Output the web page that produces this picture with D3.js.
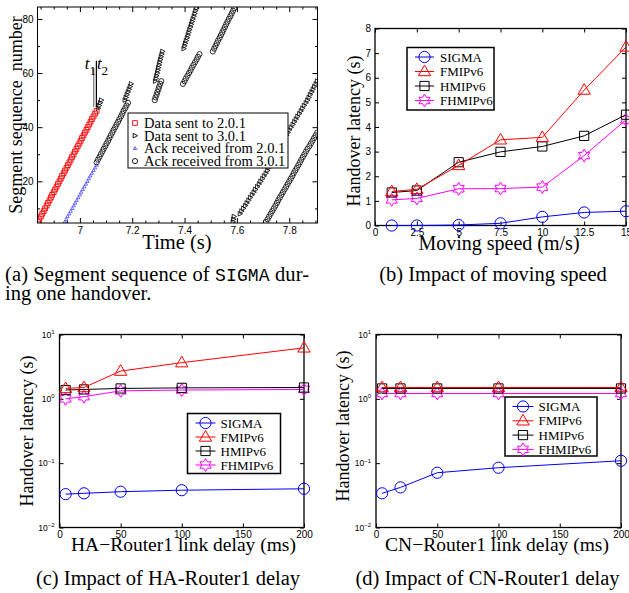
<!DOCTYPE html>
<html>
<head>
<meta charset="utf-8">
<script src="https://cdn.jsdelivr.net/npm/d3@7"></script>
<style>
body { margin: 0; background: #fff; }
svg { display: block; }
</style>
</head>
<body>
<svg id="fig" width="629" height="593"></svg>
<script>
// ---------- (a) segment trace: [first sequence number, send/ack time of each consecutive segment]
var sentTo201 = [[5, [6.840, 6.845, 6.851, 6.856, 6.862, 6.867, 6.873, 6.878, 6.884, 6.889, 6.894, 6.900, 6.905, 6.911,
    6.916, 6.922, 6.927, 6.932, 6.938, 6.943, 6.949, 6.954, 6.960, 6.965, 6.970, 6.976, 6.981, 6.987, 6.992, 6.998,
    7.003, 7.008, 7.014, 7.019, 7.025, 7.030, 7.036, 7.041, 7.046, 7.052, 7.058, 7.064]]];
var sentTo301 = [
    [47, [7.070, 7.074, 7.078, 7.082]],
    [50, [7.172, 7.176, 7.180, 7.184, 7.188, 7.192, 7.196]],
    [57, [7.288, 7.291, 7.293, 7.296, 7.298, 7.300, 7.303, 7.305, 7.308, 7.310, 7.313, 7.316]],
    [69, [7.397, 7.400, 7.403, 7.406, 7.410, 7.413, 7.416, 7.419, 7.423, 7.426, 7.429, 7.432, 7.436, 7.439, 7.442, 7.446]],
    [5, [7.585, 7.587, 7.589]],
    [8, [7.612, 7.618, 7.625, 7.632, 7.638, 7.645, 7.651, 7.658, 7.665, 7.671, 7.678, 7.685, 7.691, 7.698, 7.704, 7.711,
        7.717, 7.722, 7.728, 7.733, 7.739, 7.745, 7.750, 7.756, 7.761, 7.767, 7.773, 7.778, 7.784, 7.790, 7.795,
        7.801, 7.807, 7.814, 7.820, 7.826, 7.832, 7.839, 7.845, 7.851, 7.857, 7.864, 7.870,
        7.875, 7.880, 7.886, 7.891, 7.896, 7.902, 7.907]]
];
var ackFrom201 = [[5, [6.942, 6.948, 6.953, 6.959, 6.965, 6.971, 6.977, 6.982, 6.988, 6.994, 7.000, 7.005, 7.011,
    7.017, 7.023, 7.029, 7.034, 7.040, 7.046, 7.052, 7.058, 7.064]]];
var ackFrom301 = [
    [27, [7.064, 7.069, 7.075, 7.080, 7.086, 7.091, 7.097, 7.102, 7.108, 7.113, 7.118, 7.124, 7.129, 7.135, 7.140,
        7.146, 7.151, 7.157, 7.162, 7.167, 7.173, 7.178, 7.184]],
    [50, [7.286, 7.289, 7.293, 7.296, 7.300, 7.303, 7.307, 7.311]],
    [56, [7.394, 7.400, 7.405, 7.411, 7.417, 7.423, 7.428, 7.434, 7.440, 7.446, 7.451, 7.457]],
    [68, [7.508, 7.513, 7.518, 7.523, 7.528, 7.534, 7.539, 7.544, 7.549, 7.554, 7.559, 7.564, 7.569, 7.575, 7.580,
        7.585, 7.590]],
    [5, [7.711, 7.717, 7.723, 7.729, 7.735, 7.741, 7.747, 7.753, 7.758, 7.764, 7.770, 7.776, 7.782, 7.788, 7.794, 7.800,
        7.806, 7.812, 7.817, 7.823, 7.829, 7.835, 7.841, 7.846, 7.852, 7.858, 7.864,
        7.870, 7.877, 7.883, 7.889, 7.895, 7.901, 7.907]]
];
var traceLegend = ["Data sent to 2.0.1", "Data sent to 3.0.1", "Ack received from 2.0.1", "Ack received from 3.0.1"];
var handoverTimes = [{name: "1", t: 7.053, color: "#777"}, {name: "2", t: 7.063, color: "#000"}];

// ---------- (b) latency vs moving speed
var speeds = [1, 2.5, 5, 7.5, 10, 12.5, 15];
var speedTicks = [0, 2.5, 5, 7.5, 10, 12.5, 15];
var sigmaSpeed = [0.0, 0.0, 0.02, 0.09, 0.35, 0.53, 0.58];
var fmipSpeed = [1.38, 1.47, 2.44, 3.48, 3.58, 5.5, 7.25];
var hmipSpeed = [1.34, 1.42, 2.57, 2.99, 3.21, 3.64, 4.5];
var fhmipSpeed = [1.04, 1.1, 1.49, 1.5, 1.56, 2.84, 4.29];

// ---------- (c) and (d) latency vs link delay
var delays = [5, 20, 50, 100, 200];
var delayTicks = [0, 50, 100, 150, 200];
var sigmaHA = [0.033, 0.034, 0.036, 0.038, 0.040];
var fmipHA = [1.45, 1.5, 2.7, 3.65, 6.2];
var hmipHA = [1.37, 1.4, 1.45, 1.48, 1.5];
var fhmipHA = [1.0, 1.08, 1.33, 1.37, 1.4];
var sigmaCN = [0.034, 0.042, 0.071, 0.085, 0.109];
var fmipCN = [1.5, 1.5, 1.5, 1.5, 1.5];
var hmipCN = [1.45, 1.45, 1.45, 1.45, 1.45];
var fhmipCN = [1.21, 1.21, 1.21, 1.21, 1.21];

var protocols = ["SIGMA", "FMIPv6", "HMIPv6", "FHMIPv6"];
var protoColors = ["#0000ff", "#ff0000", "#000000", "#ff00ff"];
var protoMarkers = ["circle", "triangle", "square", "hexagram"];

var SERIF = "'Liberation Serif', 'Times New Roman', serif",
    SANS = "'Liberation Sans', Arial, sans-serif",
    MONO = "'Liberation Mono', 'Courier New', monospace";

var svg = d3.select("#fig");
svg.append("rect").attr("width", 629).attr("height", 593).attr("fill", "#fff");

function markerPath(type, s) {
    if (type == "circle") {
        return "M" + s + ",0A" + s + "," + s + " 0 1,1 " + (-s) + ",0A" + s + "," + s + " 0 1,1 " + s + ",0Z";
    }
    if (type == "square") {
        return "M" + (-s) + "," + (-s) + "H" + s + "V" + s + "H" + (-s) + "Z";
    }
    if (type == "triangle") {
        return "M0," + (-s * 1.15) + "L" + (s * 1.1) + "," + (s * 0.75) + "L" + (-s * 1.1) + "," + (s * 0.75) + "Z";
    }
    if (type == "right") {
        return "M" + (s * 1.1) + ",0L" + (-s * 0.8) + "," + (-s) + "L" + (-s * 0.8) + "," + s + "Z";
    }
    // hexagram: two overlapping triangles
    var pts = [];
    for (var k = 0; k < 12; k++) {
        var r = k % 2 == 0 ? s * 1.15 : s * 0.66;
        var a = -Math.PI / 2 + k * Math.PI / 6;
        pts.push([r * Math.cos(a), r * Math.sin(a)]);
    }
    return "M" + pts.map(function (p) { return p[0].toFixed(2) + "," + p[1].toFixed(2); }).join("L") + "Z";
}

// ================= (a) =================
var aBox = {x0: 37.5, x1: 317.5, y0: 7, y1: 223};
var ax = d3.scaleLinear().domain([6.838, 7.908]).range([aBox.x0, aBox.x1]);
var ay = d3.scaleLinear().domain([4.6, 84.4]).range([aBox.y1, aBox.y0]);

function expand(bursts) {
    var out = [];
    bursts.forEach(function (b) {
        b[1].forEach(function (t, i) { out.push({t: t, s: b[0] + i}); });
    });
    return out;
}

var ga = svg.append("g");
ga.append("clipPath").attr("id", "clipA").append("rect")
    .attr("x", aBox.x0).attr("y", aBox.y0)
    .attr("width", aBox.x1 - aBox.x0).attr("height", aBox.y1 - aBox.y0);

var aTicks = ga.append("g").attr("font-family", SERIF).attr("font-size", 8.5);
// inside ticks, mirrored on all four sides
[[d3.axisBottom(ax).tickValues([7, 7.2, 7.4, 7.6, 7.8]).tickSize(-5).tickPadding(4).tickFormat(d3.format("")), aBox.y1, true],
 [d3.axisTop(ax).tickValues([7, 7.2, 7.4, 7.6, 7.8]).tickSize(-5).tickFormat(""), aBox.y0, true]].forEach(function (c) {
    aTicks.append("g").attr("transform", "translate(0," + c[1] + ")").call(c[0]);
});
[[d3.axisLeft(ay).tickValues([20, 40, 60, 80]).tickSize(-5).tickPadding(4), aBox.x0],
 [d3.axisRight(ay).tickValues([20, 40, 60, 80]).tickSize(-5).tickFormat(""), aBox.x1]].forEach(function (c) {
    aTicks.append("g").attr("transform", "translate(" + c[1] + ",0)").call(c[0]);
});
var minorX = d3.range(6.85, 7.91, 0.05).filter(function (v) { return Math.abs(v * 5 - Math.round(v * 5)) > 0.01; });
aTicks.append("g").attr("transform", "translate(0," + aBox.y1 + ")").call(d3.axisBottom(ax).tickValues(minorX).tickSize(-2.5).tickFormat(""));
aTicks.append("g").attr("transform", "translate(0," + aBox.y0 + ")").call(d3.axisTop(ax).tickValues(minorX).tickSize(-2.5).tickFormat(""));
aTicks.append("g").attr("transform", "translate(" + aBox.x0 + ",0)").call(d3.axisLeft(ay).tickValues([10, 30, 50, 70]).tickSize(-2.5).tickFormat(""));
aTicks.append("g").attr("transform", "translate(" + aBox.x1 + ",0)").call(d3.axisRight(ay).tickValues([10, 30, 50, 70]).tickSize(-2.5).tickFormat(""));
aTicks.selectAll(".domain").remove();
aTicks.selectAll("text").attr("fill", "#000");
aTicks.selectAll("line").attr("stroke", "#000");

var aPts = ga.append("g").attr("clip-path", "url(#clipA)").attr("fill", "none");
aPts.selectAll("path.s201").data(expand(sentTo201)).enter().append("path")
    .attr("transform", function (d) { return "translate(" + ax(d.t) + "," + ay(d.s) + ")"; })
    .attr("d", markerPath("square", 2.4)).attr("stroke", "#ff0000").attr("stroke-width", 0.9);
aPts.selectAll("path.a201").data(expand(ackFrom201)).enter().append("path")
    .attr("transform", function (d) { return "translate(" + ax(d.t) + "," + ay(d.s) + ")"; })
    .attr("d", markerPath("triangle", 1.5)).attr("stroke", "#4a4aff").attr("stroke-width", 0.8);
aPts.selectAll("path.s301").data(expand(sentTo301)).enter().append("path")
    .attr("transform", function (d) { return "translate(" + ax(d.t) + "," + ay(d.s) + ")"; })
    .attr("d", markerPath("right", 2.3)).attr("stroke", "#000").attr("stroke-width", 0.8);
aPts.selectAll("path.a301").data(expand(ackFrom301)).enter().append("path")
    .attr("transform", function (d) { return "translate(" + ax(d.t) + "," + ay(d.s) + ")"; })
    .attr("d", markerPath("circle", 2.6)).attr("stroke", "#000").attr("stroke-width", 0.8);

// handover instants t1, t2
var hm = ga.append("g");
handoverTimes.forEach(function (h, i) {
    hm.append("line").attr("x1", ax(h.t)).attr("x2", ax(h.t))
        .attr("y1", ay(i == 0 ? 62 : 64.5)).attr("y2", ay(47.5))
        .attr("stroke", h.color).attr("stroke-width", 1.2);
    var tx = hm.append("text").attr("x", ax(h.t) - (i == 0 ? 9 : -0.5)).attr("y", ay(61.5))
        .attr("font-family", SERIF).attr("font-size", 17).attr("font-style", "italic").text("t");
    tx.append("tspan").attr("font-style", "normal").attr("font-size", 13).attr("dy", 6).text(h.name);
});

ga.append("rect").attr("x", aBox.x0).attr("y", aBox.y0)
    .attr("width", aBox.x1 - aBox.x0).attr("height", aBox.y1 - aBox.y0)
    .attr("fill", "none").attr("stroke", "#000").attr("stroke-width", 1);

// legend (a)
var la = ga.append("g").attr("transform", "translate(128,113)");
la.append("rect").attr("width", 160).attr("height", 55).attr("fill", "#fff").attr("stroke", "#000").attr("stroke-width", 1);
var laSym = [["square", 2.4, "#ff0000"], ["right", 2.3, "#000"], ["triangle", 1.5, "#4a4aff"], ["circle", 2.6, "#000"]];
traceLegend.forEach(function (name, i) {
    var yy = 10 + i * 12.7;
    la.append("path").attr("transform", "translate(7," + yy + ")")
        .attr("d", markerPath(laSym[i][0], laSym[i][1])).attr("fill", "none")
        .attr("stroke", laSym[i][2]).attr("stroke-width", 0.9);
    la.append("text").attr("x", 16).attr("y", yy).attr("dy", "0.35em")
        .attr("font-family", SERIF).attr("font-size", 14.5).text(name);
});

ga.append("text").attr("transform", "translate(22," + ((aBox.y0 + aBox.y1) / 2) + ") rotate(-90)")
    .attr("text-anchor", "middle").attr("font-family", SERIF).attr("font-size", 18)
    .attr("xml:space", "preserve").text("Segment sequence  number");
ga.append("text").attr("x", 177).attr("y", 249).attr("text-anchor", "middle")
    .attr("font-family", SERIF).attr("font-size", 20.5).text("Time (s)");

// ================= matlab-style panels (b), (c), (d) =================
function latencyPanel(cfg) {
    var g = svg.append("g");
    var b = cfg.box;
    var x = d3.scaleLinear().domain(cfg.xDomain).range([b.x0, b.x1]);
    var y = cfg.log ? d3.scaleLog().domain([0.01, 10]).range([b.y1, b.y0])
                    : d3.scaleLinear().domain([0, 8]).range([b.y1, b.y0]);
    var yTicks = cfg.log ? [0.01, 0.1, 1, 10] : d3.range(0, 9);

    var ticks = g.append("g").attr("font-family", SANS).attr("font-size", 8.5);
    ticks.append("g").attr("transform", "translate(0," + b.y1 + ")")
        .call(d3.axisBottom(x).tickValues(cfg.xTicks).tickSize(-4).tickPadding(3).tickFormat(d3.format("")));
    ticks.append("g").attr("transform", "translate(0," + b.y0 + ")")
        .call(d3.axisTop(x).tickValues(cfg.xTicks).tickSize(-4).tickFormat(""));
    ticks.append("g").attr("transform", "translate(" + b.x0 + ",0)")
        .call(d3.axisLeft(y).tickValues(yTicks).tickSize(-4).tickPadding(4)
            .tickFormat(cfg.log ? function () { return ""; } : d3.format("d")));
    ticks.append("g").attr("transform", "translate(" + b.x1 + ",0)")
        .call(d3.axisRight(y).tickValues(yTicks).tickSize(-4).tickFormat(""));
    ticks.selectAll(".domain").remove();
    ticks.selectAll("text").attr("fill", "#000");
    ticks.selectAll("line").attr("stroke", "#000");

    if (cfg.log) {
        yTicks.forEach(function (v) {
            var t = ticks.append("text").attr("x", b.x0 - 5).attr("y", y(v) + 3)
                .attr("text-anchor", "end").text("10");
            t.append("tspan").attr("dy", -3.5).attr("font-size", 6)
                .text(String(Math.round(Math.log10(v))).replace("-", "\u2212"));
        });
    }

    g.append("rect").attr("x", b.x0).attr("y", b.y0)
        .attr("width", b.x1 - b.x0).attr("height", b.y1 - b.y0)
        .attr("fill", "none").attr("stroke", "#000").attr("stroke-width", 1.3);

    var line = d3.line().x(function (d) { return x(d[0]); }).y(function (d) { return y(d[1]); });
    // draw in reverse so SIGMA ends on top like the original
    [3, 2, 1, 0].forEach(function (k) {
        var pts = cfg.xs.map(function (xv, i) { return [xv, cfg.series[k][i]]; });
        var sg = g.append("g");
        sg.append("path").attr("d", line(pts)).attr("fill", "none")
            .attr("stroke", protoColors[k]).attr("stroke-width", 1);
        sg.selectAll("path.m").data(pts).enter().append("path")
            .attr("transform", function (d) { return "translate(" + x(d[0]) + "," + y(d[1]) + ")"; })
            .attr("d", markerPath(protoMarkers[k], k == 2 ? 4.6 : 5.6))
            .attr("fill", "none").attr("stroke", protoColors[k]).attr("stroke-width", 1);
    });

    // legend
    var L = cfg.legend;
    var lg = g.append("g").attr("transform", "translate(" + L.x + "," + L.y + ")");
    lg.append("rect").attr("width", L.w).attr("height", L.h).attr("fill", "#fff")
        .attr("stroke", "#000").attr("stroke-width", 1.5);
    protocols.forEach(function (name, k) {
        var yy = L.first + k * L.step;
        lg.append("line").attr("x1", L.l0).attr("x2", L.l1).attr("y1", yy).attr("y2", yy)
            .attr("stroke", protoColors[k]).attr("stroke-width", 1);
        lg.append("path").attr("transform", "translate(" + ((L.l0 + L.l1) / 2) + "," + yy + ")")
            .attr("d", markerPath(protoMarkers[k], k == 2 ? 4.6 : 5.6))
            .attr("fill", "none").attr("stroke", protoColors[k]).attr("stroke-width", 1);
        lg.append("text").attr("x", L.tx).attr("y", yy).attr("dy", "0.35em")
            .attr("font-family", SERIF).attr("font-size", 13).text(name);
    });

    g.append("text").attr("transform", "translate(" + cfg.yTitleX + "," + ((b.y0 + b.y1) / 2 + cfg.yTitleShift) + ") rotate(-90)")
        .attr("text-anchor", "middle").attr("font-family", SERIF).attr("font-size", 18)
        .text("Handover latency (s)");
    g.append("text").attr("x", cfg.xTitle[1]).attr("y", cfg.xTitle[2]).attr("text-anchor", "middle")
        .attr("font-family", SERIF).attr("font-size", cfg.xTitle[3]).text(cfg.xTitle[0]);
}

latencyPanel({
    box: {x0: 375, x1: 626, y0: 28.5, y1: 225.5},
    xDomain: [0, 15], xTicks: speedTicks, xs: speeds, log: false,
    series: [sigmaSpeed, fmipSpeed, hmipSpeed, fhmipSpeed],
    legend: {x: 407, y: 47.5, w: 87, h: 62.5, first: 9.5, step: 14.5, l0: 8, l1: 27, tx: 33},
    yTitleX: 360, yTitleShift: 4,
    xTitle: ["Moving speed (m/s)", 499, 250, 20]
});
latencyPanel({
    box: {x0: 59.5, x1: 304, y0: 334.5, y1: 527.5},
    xDomain: [0, 200], xTicks: delayTicks, xs: delays, log: true,
    series: [sigmaHA, fmipHA, hmipHA, fhmipHA],
    legend: {x: 187.5, y: 413.5, w: 93, h: 60, first: 9.5, step: 14, l0: 8, l1: 28, tx: 33},
    yTitleX: 33, yTitleShift: 0,
    xTitle: ["HA\u2212Router1 link delay (ms)", 183.5, 551, 19.5]
});
latencyPanel({
    box: {x0: 376, x1: 621, y0: 334.5, y1: 527.5},
    xDomain: [0, 200], xTicks: delayTicks, xs: delays, log: true,
    series: [sigmaCN, fmipCN, hmipCN, fhmipCN],
    legend: {x: 505, y: 397, w: 92, h: 59, first: 9.5, step: 14.3, l0: 7.5, l1: 28.5, tx: 33.5},
    yTitleX: 349, yTitleShift: -5,
    xTitle: ["CN\u2212Router1 link delay (ms)", 497, 551, 19.5]
});

// ================= captions =================
var cap = svg.append("g").attr("font-family", SERIF).attr("font-size", 20.5).attr("fill", "#000");
var capA = cap.append("text").attr("x", 5).attr("y", 281).attr("textLength", 304).attr("lengthAdjust", "spacing");
capA.append("tspan").text("(a) Segment sequence of ");
capA.append("tspan").attr("font-family", MONO).attr("font-size", 18).text("SIGMA");
capA.append("tspan").text(" dur-");
cap.append("text").attr("x", 5).attr("y", 300).text("ing one handover.");
cap.append("text").attr("x", 493).attr("y", 281).attr("text-anchor", "middle").text("(b) Impact of moving speed");
cap.append("text").attr("x", 168).attr("y", 585).attr("text-anchor", "middle").text("(c) Impact of HA-Router1 delay");
cap.append("text").attr("x", 487.5).attr("y", 585).attr("text-anchor", "middle").text("(d) Impact of CN-Router1 delay");
</script>
</body>
</html>
